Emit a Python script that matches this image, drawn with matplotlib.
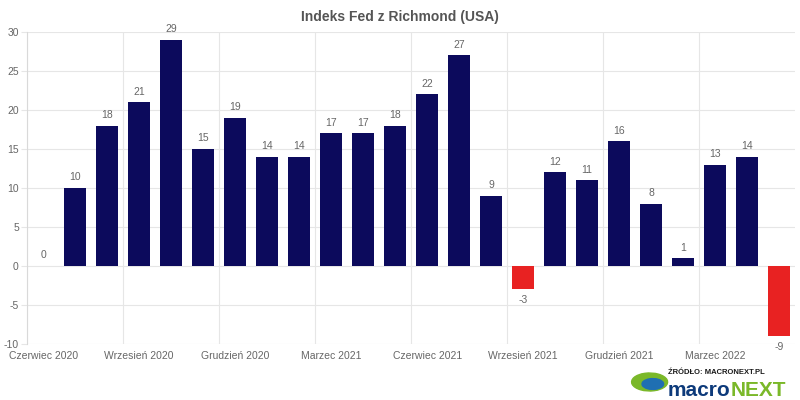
import matplotlib.pyplot as plt
from matplotlib.patches import Ellipse
import numpy as np

plt.rcParams['font.family'] = ['Liberation Sans', 'DejaVu Sans']

# Dane: indeks Fed z Richmond, czerwiec 2020 - maj 2022
months = ["Czerwiec 2020", "Lipiec 2020", "Sierpień 2020", "Wrzesień 2020", "Październik 2020",
          "Listopad 2020", "Grudzień 2020", "Styczeń 2021", "Luty 2021", "Marzec 2021",
          "Kwiecień 2021", "Maj 2021", "Czerwiec 2021", "Lipiec 2021", "Sierpień 2021",
          "Wrzesień 2021", "Październik 2021", "Listopad 2021", "Grudzień 2021", "Styczeń 2022",
          "Luty 2022", "Marzec 2022", "Kwiecień 2022", "Maj 2022"]
values = [0, 10, 18, 21, 29, 15, 19, 14, 14, 17, 17, 18, 22, 27, 9, -3, 12, 11, 16, 8, 1, 13, 14, -9]
y_ticks = [-10, -5, 0, 5, 10, 15, 20, 25, 30]

navy = "#0c0a5c"
red = "#e82222"
grid_col = "#e6e6e6"
text_col = "#666666"

fig = plt.figure(figsize=(8, 4), dpi=100)
ax = fig.add_axes([0.034, 0.14, 0.96, 0.78])

x = np.arange(len(values))
colors = [red if v < 0 else navy for v in values]
ax.bar(x, values, width=0.7, color=colors, linewidth=0, zorder=3)

# etykiety wartości
for xi, v in zip(x, values):
    if v < 0:
        ax.annotate(str(v), (xi, v), xytext=(0, -4), textcoords="offset points",
                    ha="center", va="top", fontsize=7.5, color=text_col)
    else:
        ax.annotate(str(v), (xi, v), xytext=(0, 4), textcoords="offset points",
                    ha="center", va="bottom", fontsize=7.5, color=text_col)

ax.set_xlim(-0.5, len(values) - 0.5)
ax.set_ylim(-10, 30)
ax.set_yticks(y_ticks)
ax.set_yticklabels([str(t) for t in y_ticks], fontsize=7.5, color=text_col)
ax.yaxis.grid(True, color=grid_col, linewidth=0.8, zorder=0)
ax.tick_params(axis="y", length=4, color=grid_col, pad=2)

label_idx = list(range(0, len(values), 3))
ax.set_xticks(label_idx)
ax.set_xticklabels([months[i] for i in label_idx], fontsize=7.5, color=text_col)
ax.tick_params(axis="x", length=0, pad=5)
for i in label_idx:
    ax.axvline(i - 0.5, color=grid_col, linewidth=0.8, zorder=0)

for s in ["top", "right", "bottom"]:
    ax.spines[s].set_visible(False)
ax.spines["left"].set_color("#d9d9d9")

fig.suptitle("Indeks Fed z Richmond (USA)", y=0.975, fontsize=10, fontweight="bold", color="#555555")

# logo źródła
fig.text(0.835, 0.065, "ŹRÓDŁO: MACRONEXT.PL", fontsize=5.5, fontweight="bold", color="#1a1a1a")
t1 = fig.text(0.835, 0.01, "macro", fontsize=15, fontweight="bold", color="#0d3a7a")
fig.canvas.draw()
bb = t1.get_window_extent()
fig.text(bb.x1 / 800, 0.01, "NEXT", fontsize=15, fontweight="bold", color="#7ab829")
fig.patches.append(Ellipse((0.812, 0.045), 0.045, 0.045, angle=15, transform=fig.transFigure,
                           color="#7ab829", zorder=5))
fig.patches.append(Ellipse((0.816, 0.04), 0.027, 0.027, angle=15, transform=fig.transFigure,
                           color="#1f6fb2", zorder=6))

fig.savefig("out.png", dpi=100)
